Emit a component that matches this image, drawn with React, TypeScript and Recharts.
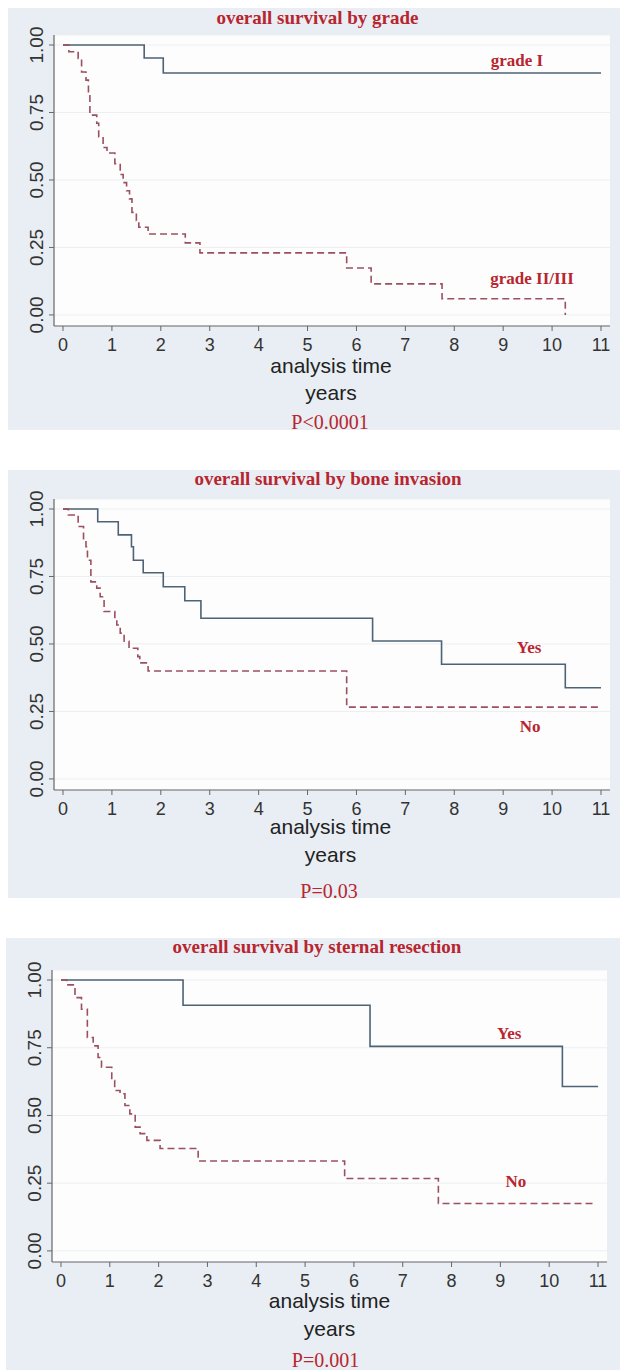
import React from 'react';
import { LineChart, Line, XAxis, YAxis, CartesianGrid, ReferenceDot } from 'recharts';

const X_TICKS = [0, 1, 2, 3, 4, 5, 6, 7, 8, 9, 10, 11];
const Y_TICKS = [0, 0.25, 0.5, 0.75, 1];

// panel 1: by grade
const gradeITime = [0, 1.66, 2.05, 11];
const gradeISurv = [1, 0.952, 0.896, 0.896];
const gradeHighTime = [0, 0.12, 0.31, 0.38, 0.47, 0.52, 0.55, 0.69, 0.73, 0.82, 0.9, 1.06, 1.17, 1.23, 1.3, 1.36, 1.41, 1.5, 1.55, 1.74, 2.5, 2.8, 5.8, 6.3, 7.75, 10.27];
const gradeHighSurv = [1, 0.975, 0.95, 0.9, 0.87, 0.815, 0.74, 0.71, 0.66, 0.62, 0.6, 0.56, 0.52, 0.49, 0.46, 0.43, 0.38, 0.35, 0.325, 0.3, 0.267, 0.23, 0.174, 0.115, 0.06, 0];

// panel 2: by bone invasion
const boneYesTime = [0, 0.71, 1.13, 1.4, 1.44, 1.64, 2.05, 2.49, 2.82, 6.33, 7.74, 10.27, 11];
const boneYesSurv = [1, 0.953, 0.904, 0.86, 0.81, 0.764, 0.712, 0.66, 0.595, 0.511, 0.425, 0.338, 0.338];
const boneNoTime = [0, 0.11, 0.31, 0.42, 0.47, 0.5, 0.57, 0.69, 0.76, 0.84, 1.06, 1.1, 1.17, 1.25, 1.35, 1.53, 1.57, 1.74, 5.8, 11];
const boneNoSurv = [1, 0.978, 0.935, 0.89, 0.86, 0.81, 0.73, 0.707, 0.675, 0.62, 0.59, 0.57, 0.54, 0.51, 0.484, 0.453, 0.43, 0.4, 0.266, 0.266];

// panel 3: by sternal resection
const sternYesTime = [0, 2.5, 6.33, 10.27, 11];
const sternYesSurv = [1, 0.907, 0.755, 0.607, 0.607];
const sternNoTime = [0, 0.117, 0.287, 0.42, 0.54, 0.66, 0.76, 0.83, 1.04, 1.1, 1.21, 1.31, 1.41, 1.52, 1.62, 1.76, 2.03, 2.81, 5.81, 7.73, 10.96];
const sternNoSurv = [1, 0.982, 0.935, 0.892, 0.788, 0.757, 0.714, 0.678, 0.629, 0.592, 0.58, 0.537, 0.506, 0.457, 0.433, 0.408, 0.378, 0.332, 0.267, 0.175, 0.175];

const zip = (t: number[], s: number[]) => t.map((v, i) => ({ t: v, s: s[i] }));

const SANS = '"Liberation Sans", Arial, sans-serif';
const SERIF = '"Liberation Serif", "Times New Roman", serif';
const RED = '#b8252f';
const SOLID = '#4e6375';
const DASHED = '#9b5060';
const BG = '#e8eef3';

const YTick = (props: any) => {
  const { x, y, payload } = props;
  const bx = x - 4;
  return (
    <text x={bx} y={y} transform={`rotate(-90 ${bx} ${y})`} textAnchor="middle" fontSize={19} fill="#333" fontFamily={SANS}>
      {Number(payload.value).toFixed(2)}
    </text>
  );
};

const tag = (text: string) => (props: any) => {
  const vb = props.viewBox || {};
  const x = (vb.x ?? 0) + (vb.width ?? 0) / 2;
  const y = (vb.y ?? 0) + (vb.height ?? 0) / 2;
  return (
    <text x={x} y={y} dy="0.35em" textAnchor="middle" fontSize={17} fontWeight="bold" fill={RED} fontFamily={SERIF}>
      {text}
    </text>
  );
};

function Caption({ cx, top, size, serif, color, bold, children }: any) {
  return (
    <div
      style={{
        position: 'absolute',
        left: cx - 200,
        width: 400,
        top,
        textAlign: 'center',
        fontSize: size,
        lineHeight: 1,
        whiteSpace: 'nowrap',
        color,
        fontWeight: bold ? 'bold' : 'normal',
        fontFamily: serif ? SERIF : SANS,
      }}
    >
      {children}
    </div>
  );
}

interface PanelProps {
  bgLeft: number;
  bgTop: number;
  bgHeight: number;
  plotLeft: number;
  plotTop: number;
  plotRight: number;
  axisY: number;
  solid: { t: number; s: number }[];
  dashed: { t: number; s: number }[];
  solidTag: [string, number, number];
  dashedTag: [string, number, number];
}

function Panel(p: PanelProps) {
  return (
    <>
      <div style={{ position: 'absolute', left: p.bgLeft, top: p.bgTop, width: 620 - p.bgLeft, height: p.bgHeight, background: BG }} />
      <div style={{ position: 'absolute', left: 0, top: p.bgTop }}>
        <LineChart
          width={621}
          height={p.axisY - p.bgTop + 30}
          margin={{ top: p.plotTop - p.bgTop, right: 621 - p.plotRight, left: 0, bottom: 0 }}
        >
          <CartesianGrid vertical={false} stroke="#eceff2" fill="#fdfdfd" fillOpacity={1} />
          <XAxis
            dataKey="t"
            type="number"
            domain={[-0.184, 11.184]}
            ticks={X_TICKS}
            allowDataOverflow
            height={30}
            tickSize={5}
            tickMargin={7}
            axisLine={{ stroke: '#666', strokeWidth: 1.2 }}
            tickLine={{ stroke: '#666' }}
            tick={{ fontSize: 18, fill: '#333', fontFamily: SANS }}
          />
          <YAxis
            type="number"
            domain={[-0.041, 1.037]}
            ticks={Y_TICKS}
            allowDataOverflow
            width={p.plotLeft}
            tickSize={5}
            tickMargin={2}
            axisLine={{ stroke: '#666', strokeWidth: 1.2 }}
            tickLine={{ stroke: '#666' }}
            tick={<YTick />}
          />
          <Line data={p.solid} dataKey="s" type="stepAfter" stroke={SOLID} strokeWidth={1.6} dot={false} isAnimationActive={false} />
          <Line data={p.dashed} dataKey="s" type="stepAfter" stroke={DASHED} strokeWidth={1.6} strokeDasharray="7 4" dot={false} isAnimationActive={false} />
          <ReferenceDot x={p.solidTag[1]} y={p.solidTag[2]} r={0} fill="none" stroke="none" label={tag(p.solidTag[0])} />
          <ReferenceDot x={p.dashedTag[1]} y={p.dashedTag[2]} r={0} fill="none" stroke="none" label={tag(p.dashedTag[0])} />
        </LineChart>
      </div>
    </>
  );
}

export default function App() {
  return (
    <div style={{ position: 'absolute', left: 0, top: 0, width: 621, height: 1370, background: '#fff', overflow: 'hidden' }}>
      <Panel
        bgLeft={8} bgTop={8} bgHeight={422}
        plotLeft={54} plotTop={35} plotRight={610} axisY={326}
        solid={zip(gradeITime, gradeISurv)}
        dashed={zip(gradeHighTime, gradeHighSurv)}
        solidTag={['grade I', 9.28, 0.944]}
        dashedTag={['grade II/III', 9.59, 0.137]}
      />
      <Caption cx={317.5} top={8} size={19} serif bold color={RED}>overall survival by grade</Caption>
      <Caption cx={331} top={355} size={21} color="#222">analysis time</Caption>
      <Caption cx={331} top={382} size={21} color="#222">years</Caption>
      <Caption cx={330} top={412} size={20} serif color={RED}>P&lt;0.0001</Caption>

      <Panel
        bgLeft={8} bgTop={470} bgHeight={428}
        plotLeft={54} plotTop={499} plotRight={610} axisY={790}
        solid={zip(boneYesTime, boneYesSurv)}
        dashed={zip(boneNoTime, boneNoSurv)}
        solidTag={['Yes', 9.53, 0.489]}
        dashedTag={['No', 9.55, 0.196]}
      />
      <Caption cx={328} top={469} size={19} serif bold color={RED}>overall survival by bone invasion</Caption>
      <Caption cx={330.5} top={816} size={21} color="#222">analysis time</Caption>
      <Caption cx={330.5} top={844} size={21} color="#222">years</Caption>
      <Caption cx={329} top={881} size={20} serif color={RED}>P=0.03</Caption>

      <Panel
        bgLeft={6} bgTop={938} bgHeight={432}
        plotLeft={52} plotTop={970} plotRight={607} axisY={1262}
        solid={zip(sternYesTime, sternYesSurv)}
        dashed={zip(sternNoTime, sternNoSurv)}
        solidTag={['Yes', 9.18, 0.805]}
        dashedTag={['No', 9.32, 0.257]}
      />
      <Caption cx={317} top={937} size={19} serif bold color={RED}>overall survival by sternal resection</Caption>
      <Caption cx={329.5} top={1290} size={21} color="#222">analysis time</Caption>
      <Caption cx={329.5} top={1318} size={21} color="#222">years</Caption>
      <Caption cx={325.5} top={1350} size={20} serif color={RED}>P=0.001</Caption>
    </div>
  );
}
